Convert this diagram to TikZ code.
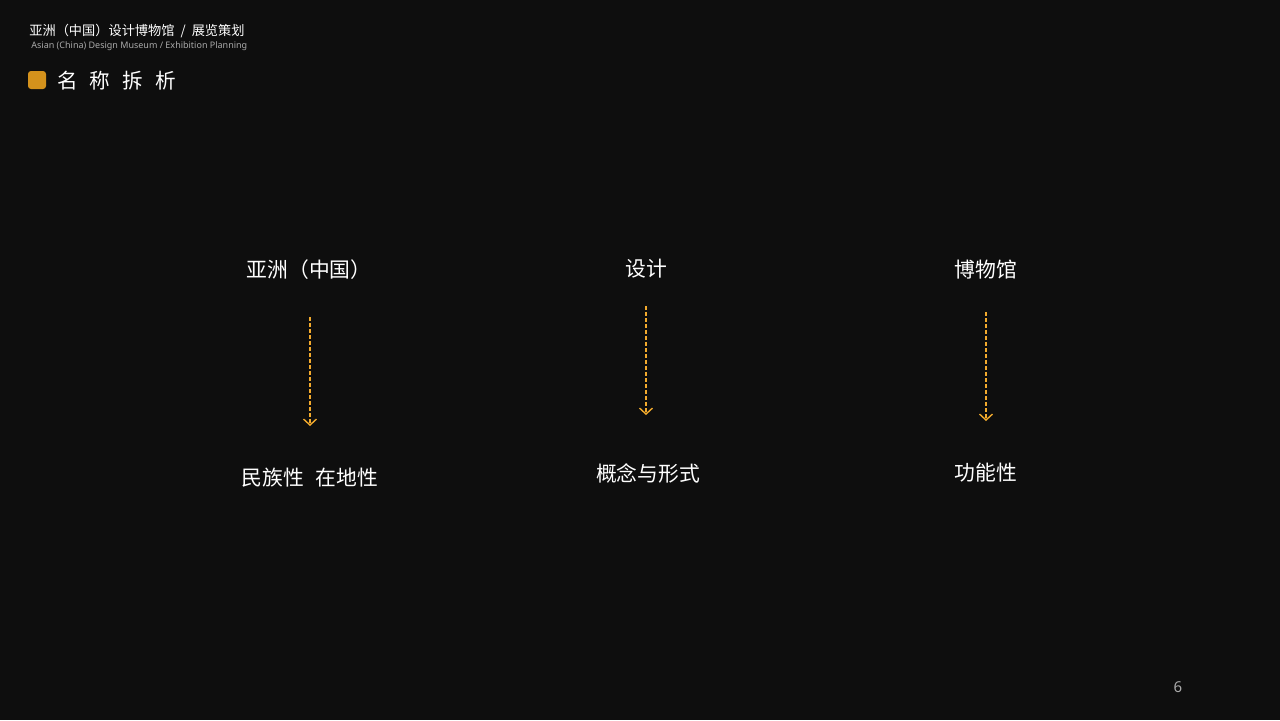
\documentclass[tikz,border=0pt]{standalone}
\usepackage{fontspec}
\setmainfont{Noto Sans CJK SC}
\newfontfamily\latinfont{Noto Sans}
\usetikzlibrary{arrows.meta}
\definecolor{pagebg}{RGB}{14,14,14}
\definecolor{flowgold}{RGB}{242,170,45}
\definecolor{tagGold}{RGB}{212,146,28}
\definecolor{subgray}{RGB}{170,170,170}
\tikzset{
  keyword/.style={text=white, font=\fontsize{10.4pt}{12pt}\selectfont, inner sep=0pt},
  flow/.style={draw=flowgold, line width=0.6pt, dash pattern=on 2pt off 1pt,
    -{Straight Barb[length=3pt,width=6.5pt,line width=0.7pt]}},
}
\begin{document}
\begin{tikzpicture}[x=0.5pt,y=0.5pt,yscale=-1]
  % Background
  \fill [pagebg] (0,0) rectangle (1280,720);
  % Header
  \node (headline) [anchor=west, text=white, inner sep=0pt, font=\fontsize{6.6pt}{8pt}\selectfont] at (29,31) {亚洲（中国）设计博物馆\hspace{3pt}/\hspace{3pt}展览策划};
  \node (subline) [anchor=west, text=subgray, inner sep=0pt, font=\latinfont\fontsize{4.5pt}{5pt}\selectfont] at (31,46.5) {Asian (China) Design Museum / Exhibition Planning};
  %Rounded Rect
  \fill [tagGold, rounded corners=1.5pt] (28,71) rectangle (46,89);
  % Text Node
  \node (title) [anchor=west, text=white, inner sep=0pt, font=\fontsize{10.3pt}{12pt}\selectfont] at (57,81) {名\hspace{6pt}称\hspace{6pt}拆\hspace{6pt}析};
  % Text Node
  \node (asia) [keyword] at (309,270) {亚洲（中国）};
  \node (design) [keyword] at (646,269) {设计};
  \node (museum) [keyword] at (986,270) {博物馆};
  \node (ethnic) [keyword] at (310,478) {民族性\hspace{6pt}在地性};
  \node (concept) [keyword] at (648,473) {概念与形式};
  \node (function) [keyword] at (986,473) {功能性};
  % Arrows
  \draw [flow, shorten <=23.5pt, shorten >=26pt] (asia.center -| ethnic.center) -- (ethnic.center);
  \draw [flow, shorten <=18.5pt, shorten >=29pt] (design.center) -- (design.center |- concept.center);
  \draw [flow, shorten <=21pt, shorten >=26pt] (museum.center) -- (function.center);
  % Page number
  \node (pageno) [text=subgray, inner sep=0pt, font=\latinfont\fontsize{7.5pt}{9pt}\selectfont] at (1178,687) {6};
\end{tikzpicture}
\end{document}
